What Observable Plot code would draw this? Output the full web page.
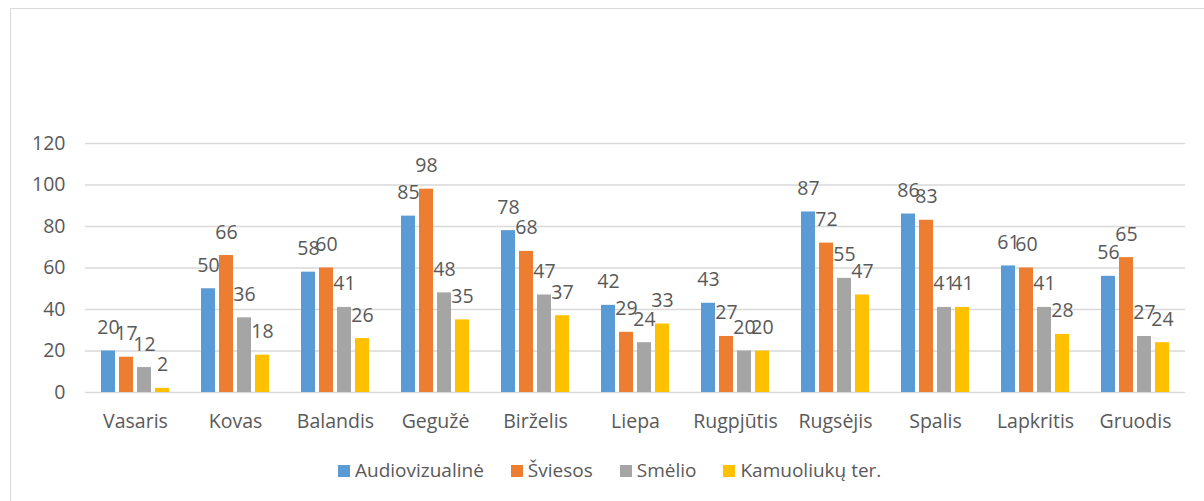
<!DOCTYPE html>
<html>
<head>
<meta charset="utf-8">
<script src="https://cdn.jsdelivr.net/npm/d3@7"></script>
<script src="https://cdn.jsdelivr.net/npm/@observablehq/plot@0.6"></script>
<style>
  html, body { margin: 0; padding: 0; background: #fff; overflow: hidden; }
  #frame { position: absolute; left: 10px; top: 8px; width: 1300px; height: 600px; border: 1px solid #d9d9d9; box-sizing: border-box; }
  #chart { position: absolute; left: 0; top: 0; }
  #legend { position: absolute; left: 327px; top: 448px; display: flex; align-items: center; font-family: "Open Sans", sans-serif; font-size: 19px; line-height: 27px; color: #595959; white-space: nowrap; }
  .item { display: flex; align-items: center; margin-right: 27px; }
  .sw { width: 12px; height: 12px; margin-right: 5px; }
</style>
</head>
<body>
<div id="frame">
  <div id="chart"></div>
  <div id="legend"></div>
</div>
<script>
const months = ["Vasaris","Kovas","Balandis","Gegužė","Birželis","Liepa","Rugpjūtis","Rugsėjis","Spalis","Lapkritis","Gruodis"];
const series = ["Audiovizualinė","Šviesos","Smėlio","Kamuoliukų ter."];
const colors = ["#5B9BD5","#ED7D31","#A5A5A5","#FFC000"];
const audiovizualine = [20,50,58,85,78,42,43,87,86,61,56];
const sviesos        = [17,66,60,98,68,29,27,72,83,60,65];
const smelio         = [12,36,41,48,47,24,20,55,41,41,27];
const kamuoliuku     = [2,18,26,35,37,33,20,47,41,28,24];
const yTicks = [0,20,40,60,80,100,120];

const values = [audiovizualine, sviesos, smelio, kamuoliuku];
const rows = [];
months.forEach((m, i) => {
  series.forEach((s, j) => rows.push({month: m, series: s, value: values[j][i]}));
});

const chart = Plot.plot({
  width: 1193,
  height: 440,
  marginLeft: 69,
  marginRight: 14,
  marginTop: 134,
  marginBottom: 57,
  style: {fontFamily: "'Open Sans', sans-serif", fontSize: "19.5px", color: "#595959", background: "transparent"},
  fx: {domain: months, paddingInner: 0, paddingOuter: 0, axis: "bottom", tickSize: 0, tickPadding: 22, label: null},
  x: {domain: series, paddingInner: 0.22, paddingOuter: 0.867, axis: null},
  y: {domain: [0, 120], ticks: yTicks, tickSize: 0, tickPadding: 20, label: null},
  color: {domain: series, range: colors},
  marks: [
    Plot.ruleY(yTicks, {stroke: "#d9d9d9", strokeWidth: 1.5}),
    Plot.barY(rows, {fx: "month", x: "series", y: "value", fill: "series"}),
    Plot.text(rows, {fx: "month", x: "series", y: "value", text: d => String(d.value), dy: -17, lineAnchor: "bottom", fill: "#595959", fontSize: 19.5})
  ]
});
document.getElementById("chart").appendChild(chart);

const legend = document.getElementById("legend");
series.forEach((s, i) => {
  const item = document.createElement("div");
  item.className = "item";
  const sw = document.createElement("div");
  sw.className = "sw";
  sw.style.background = colors[i];
  const t = document.createElement("span");
  t.textContent = s;
  item.appendChild(sw);
  item.appendChild(t);
  legend.appendChild(item);
});
</script>
</body>
</html>
